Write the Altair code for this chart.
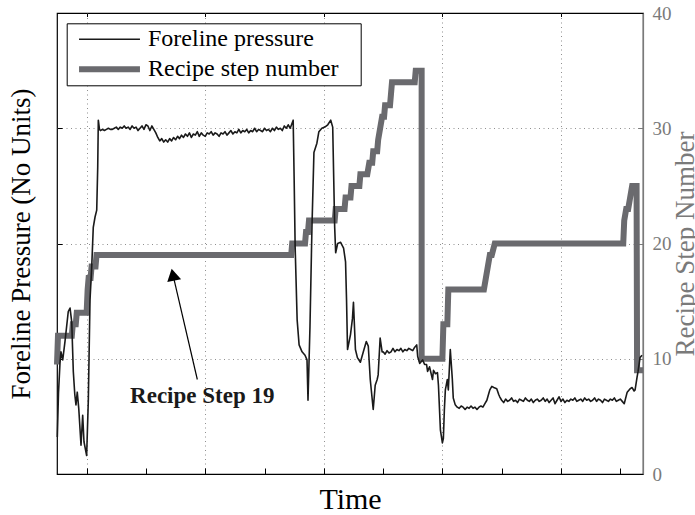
import altair as alt
import pandas as pd

# ---------------- data ----------------
# Foreline pressure (no units, plotted against the same 0-40 range)
seg1_t = [0.3, 1.5, 3, 4, 4.8, 5.8, 8.1, 11.4, 13.2, 14.9, 16.5, 18.0, 19.2, 20.5, 22, 24.3,
          26, 27.3, 30, 31.7, 33.4, 35.1, 36.7, 38.5, 40.2, 41.2, 41.8, 43]
seg1_v = [3.2, 7.0, 9.6, 10.6, 10.3, 9.9, 11.5, 14.1, 14.4, 13.2, 8.9, 6.9, 6.0, 7.1, 5.7, 2.5,
          5.1, 2.8, 1.6, 6.4, 15.1, 17.9, 21.4, 22.3, 22.9, 26.6, 30.7, 29.9]

plateau1_v = [29.8, 29.9, 29.8, 29.9, 30.0, 29.9, 29.9, 30.0, 30.1, 29.9, 30.1, 30.0, 30.2, 30.0,
              30.1, 29.9, 30.2, 30.0, 30.1, 29.8, 30.0, 30.2, 29.9, 30.3, 30.2, 29.8, 30.2, 29.9,
              29.6, 29.2, 28.9, 29.1, 28.8, 29.0, 28.8, 29.1, 28.9, 29.2, 29.0, 29.3, 29.1, 29.4,
              29.2, 29.5, 29.3, 29.6, 29.2, 29.5, 29.4, 29.7, 29.3, 29.6, 29.4, 29.3, 29.6, 29.5,
              29.7, 29.4, 29.6, 29.5, 29.3, 29.6, 29.5, 29.7, 29.4, 29.6, 29.8, 29.5, 29.7, 29.6,
              29.9, 29.6, 29.8, 29.7, 29.9, 29.6, 29.8, 29.7, 30.0, 29.7, 29.9, 29.8, 29.7, 30.0,
              29.8, 29.9, 29.7, 30.0, 29.8, 30.1, 29.9, 30.0, 29.8, 30.2, 30.0, 30.3, 30.0]
plateau1_t = list(range(44, 44 + 2 * len(plateau1_v), 2))

seg2_t = [239, 240, 241, 243, 245, 248, 251, 253, 254, 256, 258, 260, 263, 265, 268, 271, 274,
          277, 279, 281, 282, 284, 287, 290, 292, 293, 294, 297, 299, 300, 302, 304, 307, 310,
          313, 315, 317, 320, 322, 324, 325, 327, 329]
seg2_v = [30.7, 25.5, 19.7, 13.4, 11.2, 10.6, 10.3, 9.9, 6.4, 12.8, 21.4, 27.9, 28.7, 29.7, 30.0,
          30.1, 30.3, 30.7, 30.1, 21.4, 19.2, 20.0, 20.1, 19.6, 18.4, 15.1, 10.8, 12.1, 13.5,
          14.9, 10.8, 10.1, 9.7, 10.6, 11.5, 11.1, 8.2, 5.6, 7.7, 8.2, 8.6, 11.8, 10.6]

plateau2_v = [10.6, 10.4, 10.7, 10.5, 10.6, 10.9, 10.6, 10.8, 10.7, 10.9, 10.6, 10.8, 10.7, 10.9,
              10.8, 10.7, 11.0]
plateau2_t = list(range(330, 330 + 2 * len(plateau2_v), 2))

seg3_t = [364, 365, 367, 370, 372, 374, 375, 377, 380, 381, 383, 385, 386, 388, 390, 391, 392,
          393, 395, 396, 398, 400, 401, 403]
seg3_v = [11.2, 10.2, 9.6, 9.9, 9.5, 9.5, 8.9, 9.3, 8.2, 9.0, 8.7, 8.8, 7.7, 3.8, 2.7, 3.1, 5.6,
          7.3, 8.2, 7.3, 10.8, 8.3, 6.6, 6.0]

plateau3_v = [5.8, 5.7, 5.9, 5.8, 5.6, 5.8, 5.7, 5.9, 5.7, 5.8, 5.6, 5.8, 5.9, 5.8]
plateau3_t = list(range(405, 405 + 2 * len(plateau3_v), 2))

seg4_t = [433, 435, 437, 438, 440, 442, 445, 447, 448]
seg4_v = [6.1, 6.4, 7.0, 7.3, 7.6, 7.5, 7.4, 6.9, 6.7]

plateau4_v = [6.4, 6.2, 6.5, 6.3, 6.4, 6.6, 6.3, 6.4, 6.2, 6.5, 6.4, 6.3, 6.6, 6.4, 6.3, 6.5,
              6.2, 6.4, 6.5, 6.3, 6.4, 6.6, 6.3, 6.5, 6.2, 6.4, 6.6, 6.1, 6.4, 6.7, 6.3, 6.5,
              6.2, 6.4, 6.3, 6.5, 6.4, 6.6, 6.3, 6.4, 6.5, 6.3, 6.6, 6.4, 6.5, 6.3, 6.4, 6.6,
              6.3, 6.5, 6.4, 6.2, 6.5, 6.4, 6.3, 6.5, 6.4, 6.6, 6.3, 6.4, 6.5]
plateau4_t = list(range(450, 450 + 2 * len(plateau4_v), 2))

seg5_t = [572, 574, 577, 580, 582, 584, 585, 587, 588, 590, 592]
seg5_v = [6.3, 6.1, 7.1, 7.4, 7.5, 7.2, 7.3, 8.4, 8.9, 10.1, 10.3]

# Recipe step number (step changes)
step_t = [0, 1, 15, 16, 19, 20, 30, 31, 32, 34, 35, 39, 40, 237, 238, 251, 252, 254, 255, 281,
          282, 291, 292, 297, 298, 306, 307, 314, 316, 319, 320, 324, 325, 327, 329, 331, 332,
          337, 338, 339, 362, 363, 369, 369, 390, 391, 395, 396, 432, 434, 436, 438, 440, 443,
          573, 574, 576, 578, 580, 582, 586.5, 587, 593]
step_v = [9.5, 12, 12, 13, 13, 14, 14, 16, 17, 17, 18, 18, 19, 19, 20, 20, 21, 21, 22, 22,
          23, 23, 24, 24, 25, 25, 26, 26, 27, 27, 28, 28, 29, 30, 31, 31, 32,
          32, 33, 34, 34, 35, 35, 10, 10, 13, 13, 16, 16, 17, 18, 19, 19, 20,
          20, 22, 23, 23, 24, 25, 25, 9, 9]

series_names = ["Foreline pressure", "Recipe step number"]
series_colors = ["#1a1a1a", "#6a6a6e"]
series_widths = [1.6, 6]

x_all_ticks = [30, 90, 150, 210, 270, 330, 390, 450, 510, 570]
x_major_ticks = [30, 150, 270, 390, 510]
y_grid_ticks = [10, 20, 30]
step_labels = [0, 10, 20, 30, 40]

annotation_text = ["Recipe Step 19"]
annotation_t = [147]
annotation_v = [6.2]
arrow_tail = (142, 8.2)
arrow_tip = (117.3, 17.3)
arrow_angle = [348]

# ---------------- tables ----------------
press_t = seg1_t + plateau1_t + seg2_t + plateau2_t + seg3_t + plateau3_t + seg4_t + plateau4_t + seg5_t
press_v = seg1_v + plateau1_v + seg2_v + plateau2_v + seg3_v + plateau3_v + seg4_v + plateau4_v + seg5_v
press_df = pd.DataFrame({"t": press_t, "v": press_v, "series": series_names[0],
                         "i": range(len(press_t))})
step_df = pd.DataFrame({"t": step_t, "v": step_v, "series": series_names[1],
                        "i": range(len(step_t))})
arrow_df = pd.DataFrame({"t": [arrow_tail[0]], "v": [arrow_tail[1]],
                         "t2": [arrow_tip[0]], "v2": [arrow_tip[1]]})
head_df = pd.DataFrame({"t": [arrow_tip[0]], "v": [arrow_tip[1]], "a": arrow_angle})
text_df = pd.DataFrame({"t": annotation_t, "v": annotation_v, "label": annotation_text})

# ---------------- chart ----------------
W, H = 586, 461
FONT = "Liberation Serif"
GRID = "#8f8f8f"
RIGHT_GRAY = "#7a7a7a"

x_scale = alt.Scale(domain=[0, 593], nice=False, zero=False)
y_scale = alt.Scale(domain=[0, 40], nice=False, zero=False)
color_scale = alt.Scale(domain=series_names, range=series_colors)
width_scale = alt.Scale(domain=series_names, range=series_widths)

legend = alt.Legend(
    title="\u00a0", titleOrient="right", titlePadding=18, titleFontSize=10,
    orient="none", legendX=9.7, legendY=10.3, direction="vertical",
    symbolType="M-4,0H4", symbolSize=232, symbolOffset=26.8, labelOffset=26.5,
    padding=4, rowPadding=6, labelFont=FONT, labelFontSize=24, labelColor="black",
    labelLimit=0, strokeColor="black", fillColor="white", cornerRadius=0,
)

color_enc = alt.Color("series:N", scale=color_scale, legend=legend)
width_enc = alt.StrokeWidth("series:N", scale=width_scale, legend=legend)

no_axis = None

step_layer = alt.Chart(step_df).mark_line(strokeJoin="miter", strokeCap="butt").encode(
    x=alt.X("t:Q", scale=x_scale, axis=alt.Axis(
        orient="top", offset=-H, values=x_all_ticks, ticks=True, tickSize=6,
        tickColor="black", tickWidth=1, labels=False, domain=False, grid=False, title=None)),
    y=alt.Y("v:Q", scale=y_scale, axis=alt.Axis(
        orient="right", values=step_labels, ticks=False, grid=False, domain=True,
        domainColor=RIGHT_GRAY, domainWidth=1.2, labelFont=FONT, labelFontSize=19,
        labelColor=RIGHT_GRAY, labelPadding=9, labelBaseline="middle",
        title="Recipe Step Number", titleFont=FONT, titleFontSize=27, titleFontWeight="normal",
        titleColor=RIGHT_GRAY, titleAngle=270, titleBaseline="top", titlePadding=1)),
    color=color_enc,
    strokeWidth=width_enc,
    order=alt.Order("i:Q"),
)

press_layer = alt.Chart(press_df).mark_line(strokeJoin="round").encode(
    x=alt.X("t:Q", scale=x_scale, axis=alt.Axis(
        orient="bottom", values=x_major_ticks, grid=True, gridColor=GRID, gridDash=[1, 3.5],
        gridWidth=1, ticks=False, labels=False, domain=False,
        title="Time", titleFont=FONT, titleFontSize=30, titleFontWeight="normal",
        titleColor="black", titlePadding=10)),
    y=alt.Y("v:Q", scale=y_scale, axis=alt.Axis(
        orient="left", values=y_grid_ticks, grid=True, gridColor=GRID, gridDash=[1, 3.5],
        gridWidth=1, ticks=False, labels=False, domain=False,
        title="Foreline Pressure (No Units)", titleFont=FONT, titleFontSize=27,
        titleFontWeight="normal", titleColor="black", titlePadding=22)),
    color=color_enc,
    strokeWidth=width_enc,
    order=alt.Order("i:Q"),
)

arrow_layer = alt.Chart(arrow_df).mark_rule(color="black", strokeWidth=1.2).encode(
    x=alt.X("t:Q", scale=x_scale, axis=alt.Axis(
        orient="bottom", offset=-H, values=x_major_ticks, ticks=True, tickSize=3.5,
        tickColor="black", labels=False, domain=False, grid=False, title=None)),
    y=alt.Y("v:Q", scale=y_scale, axis=alt.Axis(
        orient="right", offset=-W, values=y_grid_ticks, ticks=True, tickSize=5,
        tickColor="black", labels=False, domain=False, grid=False, title=None)),
    x2="t2:Q",
    y2="v2:Q",
)

head_layer = alt.Chart(head_df).mark_point(
    shape="triangle-up", filled=True, color="black", size=200, opacity=1
).encode(
    x=alt.X("t:Q", scale=x_scale, axis=no_axis),
    y=alt.Y("v:Q", scale=y_scale, axis=alt.Axis(
        orient="left", offset=-W, values=y_grid_ticks, ticks=True, tickSize=5,
        tickColor=RIGHT_GRAY, labels=False, domain=False, grid=False, title=None)),
    angle=alt.Angle("a:Q", scale=None),
)

text_layer = alt.Chart(text_df).mark_text(
    font=FONT, fontSize=23, fontWeight="bold", color="#1a1a1a", align="center",
    baseline="alphabetic"
).encode(
    x=alt.X("t:Q", scale=x_scale, axis=no_axis),
    y=alt.Y("v:Q", scale=y_scale, axis=no_axis),
    text="label:N",
)

chart = alt.layer(step_layer, press_layer, arrow_layer, head_layer, text_layer).resolve_scale(
    y="independent"
).resolve_axis(
    x="independent", y="independent"
).properties(
    width=W, height=H,
    autosize=alt.AutoSizeParams(type="none"),
    padding={"left": 57, "top": 13, "right": 52, "bottom": 41},
    background="white",
).configure_view(
    stroke="black", strokeWidth=1.2
)

chart.save("out.html", embed_options={"renderer": "svg", "actions": False})
